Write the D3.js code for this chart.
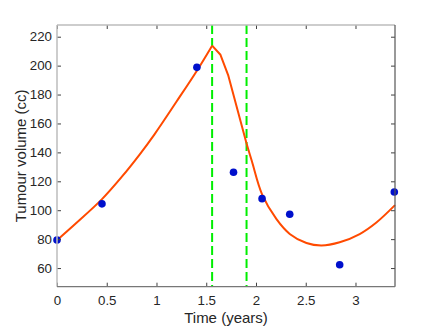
<!DOCTYPE html>
<html><head><meta charset="utf-8">
<script src="https://cdn.jsdelivr.net/npm/d3@7"></script>
<style>
html,body{margin:0;padding:0;background:#fff;}
svg{display:block;font-family:"Liberation Sans",Arial,Helvetica,sans-serif;}
</style></head>
<body>
<svg id="chart" width="436" height="327"></svg>
<script>
// Observed data (blue points)
const obsTime = [0, 0.452, 1.406, 1.774, 2.061, 2.339, 2.841, 3.39];
const obsVolume = [79.4, 104.4, 198.8, 126.3, 108, 97.2, 62.3, 112.6];

// Model curve: growth phase (smooth)
const growthTime = [0, 0.18, 0.45, 0.65, 0.83, 0.98, 1.2, 1.406, 1.559];
const growthVolume = [79.3, 90.3, 107.5, 123, 138.5, 152.5, 175, 196.5, 213.8];
// Treatment phase (piecewise linear)
const treatTime = [1.559, 1.643, 1.72, 1.905];
const treatVolume = [213.8, 207.5, 193.5, 146.2];
// Regrowth phase (smooth)
const regrowTime = [1.905, 1.958, 2.061, 2.206, 2.339, 2.507, 2.658, 2.841, 3.042, 3.21, 3.397];
const regrowVolume = [146.2, 134.0, 111.0, 93.8, 83.6, 77.3, 75.6, 77.8, 83.5, 91.5, 103.5];

// Treatment markers (green dashed lines)
const markerTimes = [1.559, 1.905];

const xTicks = [0, 0.5, 1, 1.5, 2, 2.5, 3];
const xTickLabels = ["0", "0.5", "1", "1.5", "2", "2.5", "3"];
const yTicks = [60, 80, 100, 120, 140, 160, 180, 200, 220];
const yTickLabels = ["60", "80", "100", "120", "140", "160", "180", "200", "220"];

const L = 57, R = 395, T = 25, B = 286.7;
const svg = d3.select("#chart");
const x = d3.scaleLinear().domain([0, 3.397]).range([L, R]);
const y = d3.scaleLinear().domain([47.1, 228.1]).range([B, T]);

const textColor = "#262626";

// markers
svg.append("g").selectAll("line").data(markerTimes).join("line")
  .attr("x1", d => x(d)).attr("x2", d => x(d))
  .attr("y1", T).attr("y2", B)
  .attr("stroke", "#00ee00").attr("stroke-width", 2)
  .attr("stroke-dasharray", "9,4");

// model curve
const smooth = d3.line().x(d => x(d[0])).y(d => y(d[1])).curve(d3.curveCatmullRom.alpha(0.5));
const lin = d3.line().x(d => x(d[0])).y(d => y(d[1]));
const modelG = svg.append("g").attr("fill", "none").attr("stroke", "#ff4a00")
  .attr("stroke-width", 2).attr("stroke-linejoin", "round");
modelG.append("path").attr("d", smooth(d3.zip(growthTime, growthVolume)));
modelG.append("path").attr("d", lin(d3.zip(treatTime, treatVolume)));
modelG.append("path").attr("d", smooth(d3.zip(regrowTime, regrowVolume)));

// observed points
svg.append("g").selectAll("circle").data(d3.zip(obsTime, obsVolume)).join("circle")
  .attr("cx", d => x(d[0])).attr("cy", d => y(d[1])).attr("r", 3.8)
  .attr("fill", "#0010cc");

// axes
const xAxis = d3.axisBottom(x).tickValues(xTicks).tickFormat((d, i) => xTickLabels[i])
  .tickSize(-4).tickPadding(9);
const xAxisTop = d3.axisTop(x).tickValues(xTicks).tickFormat("").tickSize(-4);
const yAxis = d3.axisLeft(y).tickValues(yTicks).tickFormat((d, i) => yTickLabels[i])
  .tickSize(-4).tickPadding(5);
const yAxisRight = d3.axisRight(y).tickValues(yTicks).tickFormat("").tickSize(-4);

function style(g) {
  g.select(".domain").remove();
  g.selectAll(".tick line").attr("stroke", "#404040");
  g.selectAll(".tick text").attr("fill", textColor).attr("font-size", 13.3)
    .attr("font-family", "Liberation Sans, Arial, sans-serif");
}
svg.append("g").attr("transform", `translate(0,${B})`).call(xAxis).call(style);
svg.append("g").attr("transform", `translate(0,${T})`).call(xAxisTop).call(style);
svg.append("g").attr("transform", `translate(${L},0)`).call(yAxis).call(style);
svg.append("g").attr("transform", `translate(${R},0)`).call(yAxisRight).call(style);

// box
svg.append("line").attr("x1", L).attr("x2", R).attr("y1", T).attr("y2", T).attr("stroke", "#bdbdbd").attr("stroke-width", 1.5);
svg.append("line").attr("x1", L).attr("x2", L).attr("y1", T).attr("y2", B).attr("stroke", "#bdbdbd").attr("stroke-width", 1.5);
svg.append("line").attr("x1", R).attr("x2", R).attr("y1", T).attr("y2", B).attr("stroke", "#555").attr("stroke-width", 1.2);
svg.append("line").attr("x1", L).attr("x2", R).attr("y1", B).attr("y2", B).attr("stroke", "#777").attr("stroke-width", 1.2);

// axis titles
svg.append("text").attr("x", (L + R) / 2).attr("y", 322.5).attr("text-anchor", "middle")
  .attr("font-size", 15).attr("fill", textColor).text("Time (years)");
svg.append("text").attr("transform", `translate(25.5,${(T + B) / 2}) rotate(-90)`)
  .attr("text-anchor", "middle").attr("font-size", 15).attr("fill", textColor)
  .text("Tumour volume (cc)");
</script>
</body></html>
